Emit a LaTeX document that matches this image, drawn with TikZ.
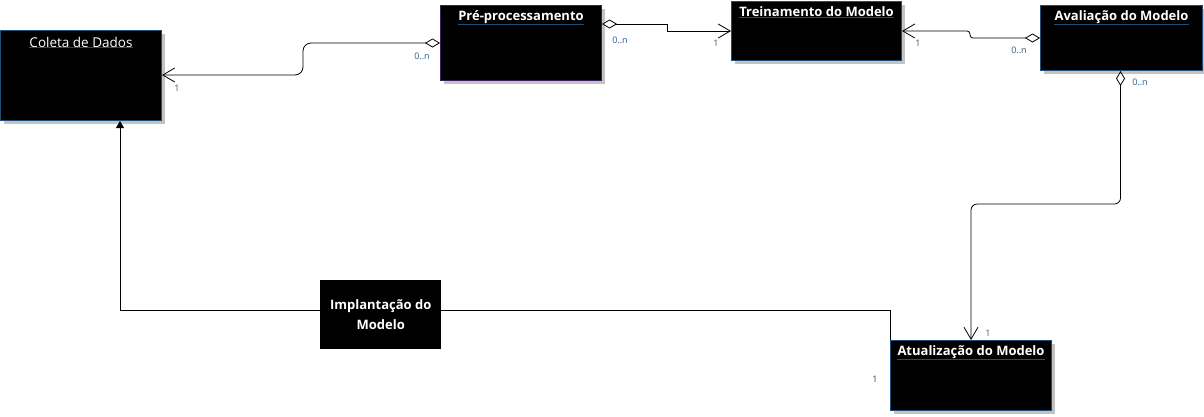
\documentclass[tikz,border=0pt]{standalone}
\usepackage{fontspec}
\setmainfont{Open Sans}
\usepackage{tikz}
\usetikzlibrary{calc,arrows.meta,shadows}
\definecolor{edgeBlue}{HTML}{1F4E79}
\definecolor{edgeViolet}{HTML}{3B1F5C}
\definecolor{shadowGray}{HTML}{C3C3C3}
\definecolor{multBlue}{HTML}{2E5C8A}
\tikzset{
  classBox/.style={draw=edgeBlue, fill=black, line width=1pt, anchor=north west, inner sep=0pt,
    drop shadow={shadow xshift=3pt, shadow yshift=-3pt, fill=shadowGray, opacity=1}},
  implBox/.style={fill=black, anchor=north west, inner sep=0pt, align=center, text=white,
    font=\bfseries\fontsize{13}{20}\selectfont},
  classTitle/.style={text=white, font=\bfseries\fontsize{13}{15}\selectfont, inner sep=0.5pt},
  titleRule/.style={draw=edgeBlue, line width=1pt},
  linkLine/.style={draw=black, line width=0.8pt},
  aggrLink/.style={linkLine, {Diamond[open,length=15pt,width=9pt]}-{Straight Barb[length=12pt,width=14pt]}},
  multLabel/.style={text=multBlue, font=\fontsize{9}{10}\selectfont, inner sep=0pt}
}
\begin{document}
\begin{tikzpicture}[x=1pt, y=-1pt]
  \useasboundingbox (0,0) rectangle (1204,416);
  \fill[white] (0,0) rectangle (1204,416);

  % class boxes
  \node[classBox, minimum width=161pt, minimum height=90pt] (coleta) at (0,30) {};
  \node[classBox, draw=edgeViolet, minimum width=161pt, minimum height=75pt] (pre) at (440,5) {};
  \node[classBox, minimum width=170pt, minimum height=59pt] (trein) at (731,1) {};
  \node[classBox, minimum width=162pt, minimum height=65pt] (aval) at (1040,5) {};
  \node[classBox, minimum width=161pt, minimum height=70pt] (atual) at (890,340) {};
  \node[implBox, minimum width=121pt, minimum height=69pt] (impl) at (320,280) {Implantação do\\Modelo};

  % titles
  \node[classTitle, font=\fontsize{13.5}{15}\selectfont] (coletaT) at ($(coleta.north)+(0,12)$) {Coleta de Dados};
  \node[classTitle] (preT) at ($(pre.north)+(0,12)$) {Pré-processamento};
  \node[classTitle] (treinT) at ($(trein.north)+(0,11)$) {Treinamento do Modelo};
  \node[classTitle] (avalT) at ($(aval.north)+(0,12)$) {Avaliação do Modelo};
  \node[classTitle] (atualT) at ($(atual.north)+(0,12)$) {Atualização do Modelo};
  \foreach \t in {coletaT,preT,treinT,avalT,atualT}
    \draw[titleRule] (\t.south west) -- (\t.south east);

  % aggregations
  \draw[aggrLink, rounded corners=8pt] ($(pre.north west)+(0,38)$) -- ++(-137,0) -- ++(0,32) -- ($(coleta.north east)+(0,45)$);
  \draw[aggrLink] ($(pre.north east)+(0,19)$) -- ++(65,0) |- ($(trein.north west)+(0,30)$);
  \draw[aggrLink, rounded corners=3pt] ($(aval.north west)+(0,33)$) -- ++(-70,0) -- ++(0,-7) -- ($(trein.north east)+(0,30)$);
  \draw[aggrLink, rounded corners=6pt] ($(aval.south)+(-1,0)$) -- ++(0,133) -| (atual.north);

  % deployment links
  \draw[linkLine, -{Triangle[length=7pt,width=8pt]}] ($(impl.north west)+(0,30)$) -| ($(coleta.south west)+(120,0)$);
  \draw[linkLine] ($(impl.north east)+(0,30)$) -| (atual.north west);

  % multiplicities
  \node[multLabel] (m1) at (422,56) {0..n};
  \node[multLabel] (m2) at (177,88) {1};
  \node[multLabel] (m3) at (620,40) {0..n};
  \node[multLabel] (m4) at (716,43) {1};
  \node[multLabel] (m5) at (918,43) {1};
  \node[multLabel] (m6) at (1019,50) {0..n};
  \node[multLabel] (m7) at (1140,82) {0..n};
  \node[multLabel] (m8) at (988,333) {1};
  \node[multLabel, text=black!75] (m9) at (875,379) {1};
\end{tikzpicture}
\end{document}
